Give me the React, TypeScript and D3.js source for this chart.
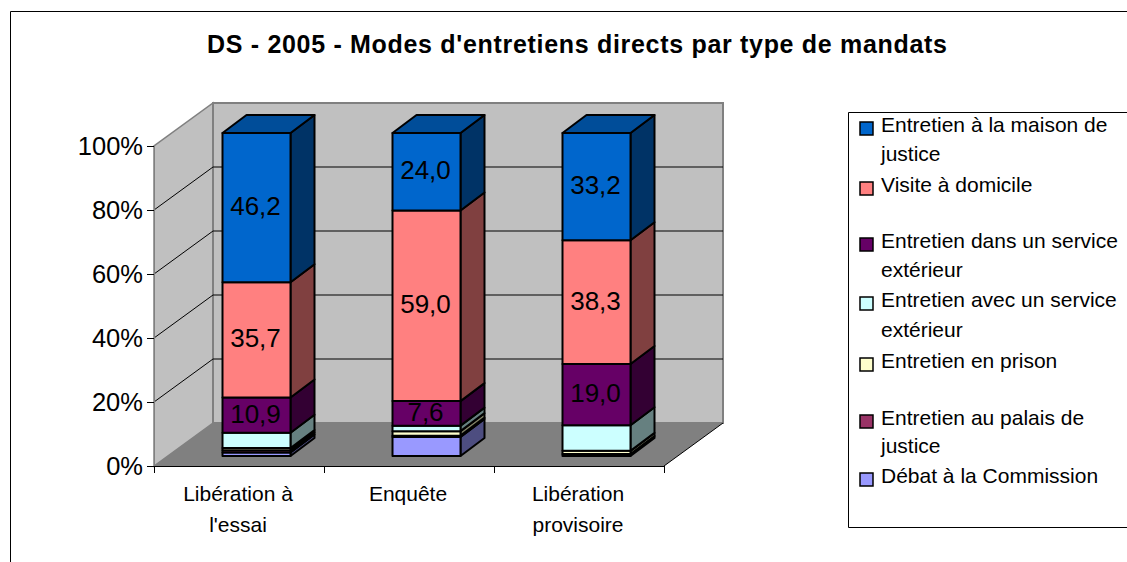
import React from 'react';
import * as d3 from 'd3';

const title = "DS - 2005 - Modes d'entretiens directs par type de mandats";
const categories = ['Libération à|l\'essai', 'Enquête', 'Libération|provisoire'];
const yTicks = [0, 20, 40, 60, 80, 100];

const seriesKeys = ['debat', 'palais', 'prison', 'avec', 'dans', 'visite', 'maison'];
const debat = [1.1, 5.9, 0.0];
const palais = [0.7, 0.4, 0.6];
const prison = [0.7, 1.4, 1.0];
const avec = [4.7, 1.7, 7.9];
const dans = [10.9, 7.6, 19.0];
const visite = [35.7, 59.0, 38.3];
const maison = [46.2, 24.0, 33.2];
const seriesValues = [debat, palais, prison, avec, dans, visite, maison];
const labelled = ['dans', 'visite', 'maison'];

const frontColors = ['#9999FF', '#993366', '#FFFFCC', '#CCFFFF', '#660066', '#FF8080', '#0066CC'];
const legendOrder = ['maison', 'visite', 'dans', 'avec', 'prison', 'palais', 'debat'];
const legendLabels = [
  ['Entretien à la maison de', 'justice'],
  ['Visite à domicile'],
  ['Entretien dans un service', 'extérieur'],
  ['Entretien avec un service', 'extérieur'],
  ['Entretien en prison'],
  ['Entretien au palais de', 'justice'],
  ['Débat à la Commission'],
];
const legendBaselines = [[132, 161], [192], [248, 277], [307, 337], [368], [425, 453], [483]];

const FONT = '"Liberation Sans", Arial, sans-serif';
const W = 1127, H = 562;
const X0 = 154, X1 = 664, Y0 = 466, Y100 = 146;
const DX = 59, DY = -43;

export default function App() {
  const yAxis = d3.scaleLinear().domain([0, 100]).range([Y0, Y100]);
  const yBar = d3.scaleLinear().domain([0, 100]).range([456, 133]);
  const xBand = d3.scaleBand<number>().domain(categories.map((_, i) => i)).range([X0, X1]).paddingInner(0.6).paddingOuter(0.3);
  const bw = xBand.bandwidth();
  const barOffset = 17.5;
  const sideDx = 24, sideDy = -18;

  const rows = categories.map((_, i) => {
    const r: Record<string, number> = {};
    seriesKeys.forEach((k, s) => { r[k] = seriesValues[s][i]; });
    return r;
  });
  const stacked = d3.stack<Record<string, number>>().keys(seriesKeys)(rows);
  const pts = (p: number[][]) => p.map((q) => q.join(',')).join(' ');
  const shade = (c: string, f: number) => {
    const o = d3.rgb(c);
    return d3.rgb(o.r * f, o.g * f, o.b * f).formatHex();
  };

  const wall = '#C0C0C0';
  const edge = '#808080';

  return (
    <svg width={W} height={H} viewBox={`0 0 ${W} ${H}`} style={{ position: 'absolute', left: 0, top: 0, display: 'block', background: '#fff' }} fontFamily={FONT}>
      <path d={`M10.5 ${H}V11.5H${W}`} fill="none" stroke="#000" strokeWidth={1} />
      <text x={577} y={53} textAnchor="middle" fontWeight="bold" fontSize={25} fill="#000" textLength={740} lengthAdjust="spacing">{title}</text>

      {/* walls and floor */}
      <polygon points={pts([[X0, Y0], [X0, Y100], [X0 + DX, Y100 + DY], [X0 + DX, Y0 + DY]])} fill={wall} stroke={edge} strokeWidth={1.5} />
      <polygon points={pts([[X0 + DX, Y100 + DY], [X1 + DX, Y100 + DY], [X1 + DX, Y0 + DY], [X0 + DX, Y0 + DY]])} fill={wall} stroke={edge} strokeWidth={2} />
      <polygon points={pts([[X0, Y0], [X1, Y0], [X1 + DX, Y0 + DY], [X0 + DX, Y0 + DY]])} fill={edge} />
      {yTicks.filter((t) => t > 0 && t < 100).map((t) => (
        <polyline key={t} points={pts([[X0, yAxis(t)], [X0 + DX, yAxis(t) + DY], [X1 + DX, yAxis(t) + DY]])} fill="none" stroke="#000" strokeWidth={1} />
      ))}
      <line x1={X1} y1={Y0} x2={X1 + DX} y2={Y0 + DY} stroke="#000" strokeWidth={1} />
      <line x1={X0} y1={Y0 + 0.5} x2={X1} y2={Y0 + 0.5} stroke="#000" strokeWidth={1} />

      {/* y axis */}
      <line x1={X0 + 0.5} y1={Y100} x2={X0 + 0.5} y2={Y0} stroke={edge} strokeWidth={1} />
      {yTicks.map((t) => (
        <g key={t}>
          <line x1={X0 - 7} x2={X0} y1={yAxis(t) + 0.5} y2={yAxis(t) + 0.5} stroke="#000" />
          <text x={143} y={yAxis(t) + 9} textAnchor="end" fontSize={25.5} fill="#000">{t}%</text>
        </g>
      ))}

      {/* x axis */}
      {d3.range(categories.length + 1).map((i) => {
        const x = X0 + ((X1 - X0) * i) / categories.length;
        return <line key={i} x1={x + 0.5} x2={x + 0.5} y1={Y0} y2={Y0 + 7} stroke="#000" />;
      })}
      {categories.map((c, i) => {
        const cx = X0 + ((X1 - X0) * (i + 0.5)) / categories.length;
        return c.split('|').map((ln, j) => (
          <text key={j} x={cx - 1} y={501 + j * 31} textAnchor="middle" fontSize={21} fill="#000">{ln}</text>
        ));
      })}

      {/* bars */}
      {categories.map((_, i) => {
        const x = (xBand(i) as number) + barOffset;
        return (
          <g key={i} stroke="#000" strokeWidth={2} strokeLinejoin="round">
            {stacked.map((layer, s) => {
              const [a, b] = layer[i];
              if (b - a <= 0) return null;
              const yb = yBar(a), yt = yBar(b);
              const color = frontColors[s];
              return (
                <g key={s}>
                  <polygon points={pts([[x + bw, yb], [x + bw + sideDx, yb + sideDy], [x + bw + sideDx, yt + sideDy], [x + bw, yt]])} fill={shade(color, 0.5)} />
                  <rect x={x} y={yt} width={bw} height={yb - yt} fill={color} />
                  {s === stacked.length - 1 && (
                    <polygon points={pts([[x, yt], [x + sideDx, yt + sideDy], [x + bw + sideDx, yt + sideDy], [x + bw, yt]])} fill={shade(color, 0.75)} />
                  )}
                </g>
              );
            })}
            {stacked.map((layer, s) => {
              if (!labelled.includes(layer.key)) return null;
              const [a, b] = layer[i];
              return (
                <text key={`l${s}`} x={x + bw / 2 - 1} y={(yBar(a) + yBar(b)) / 2 + 7.5} textAnchor="middle" fontSize={26} fill="#000" stroke="none">
                  {d3.format('.1f')(b - a).replace('.', ',')}
                </text>
              );
            })}
          </g>
        );
      })}

      {/* legend */}
      <path d={`M${W} 112.5H848.5V527.5H${W}`} fill="#fff" stroke="#000" strokeWidth={1} />
      {legendOrder.map((k, n) => {
        const color = frontColors[seriesKeys.indexOf(k)];
        const bl = legendBaselines[n];
        return (
          <g key={k}>
            <rect x={860} y={bl[0] - 10} width={13} height={13} fill={color} stroke="#000" strokeWidth={1.5} />
            {legendLabels[n].map((ln, j) => (
              <text key={j} x={881} y={bl[j]} fontSize={21} fill="#000">{ln}</text>
            ))}
          </g>
        );
      })}
    </svg>
  );
}
